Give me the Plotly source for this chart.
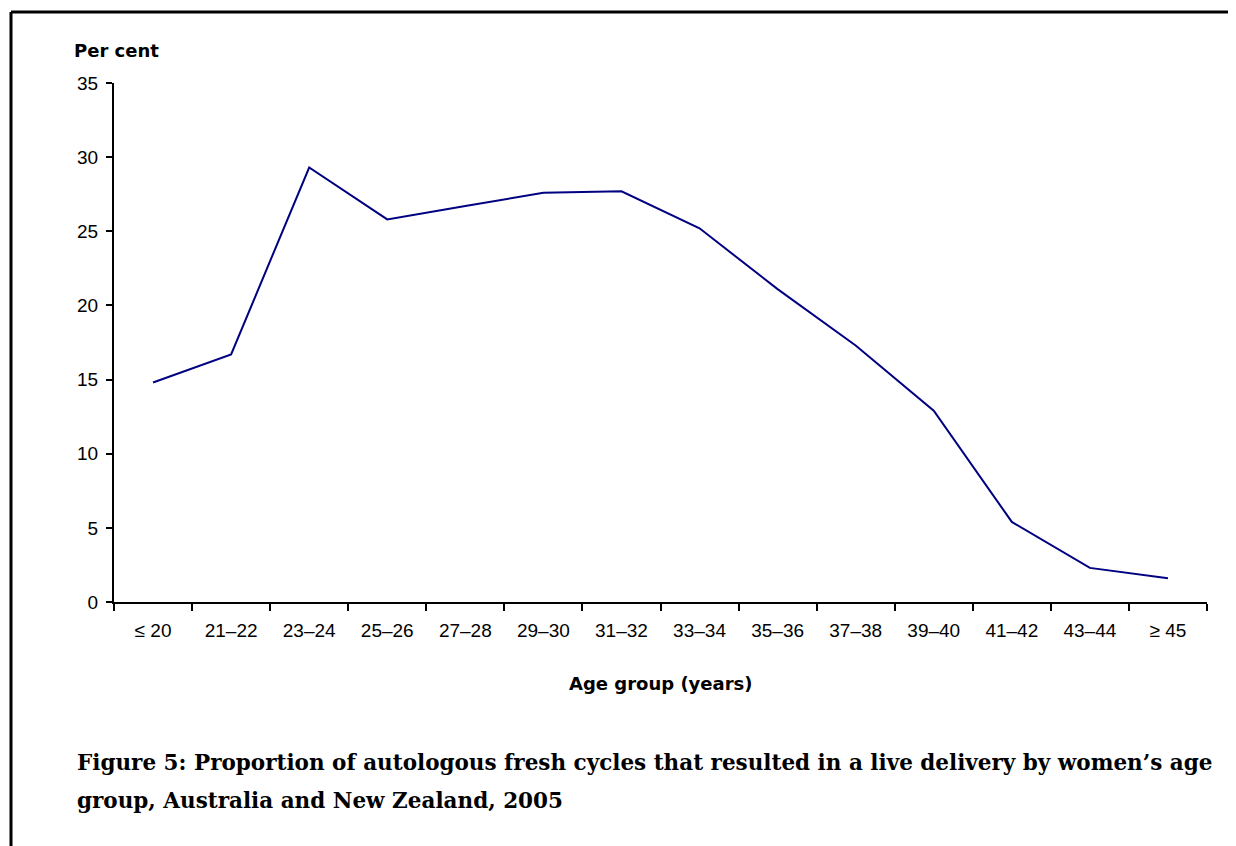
import plotly.graph_objects as go

categories = ["≤ 20", "21–22", "23–24", "25–26", "27–28", "29–30", "31–32",
              "33–34", "35–36", "37–38", "39–40", "41–42", "43–44", "≥ 45"]
per_cent = [14.8, 16.7, 29.3, 25.8, 26.7, 27.6, 27.7,
            25.2, 21.1, 17.3, 12.9, 5.4, 2.3, 1.6]
y_ticks = [0, 5, 10, 15, 20, 25, 30, 35]

OFF = 8  # page body margin
W, H = 1236 - OFF, 846 - OFF
L, R, T, B = 114 - OFF, 29, 83 - OFF, 244
pw, ph = W - L - R, H - T - B

def px(x):
    return (x - OFF - L) / pw

def py(y):
    return (H - B - (y - OFF)) / ph

fig = go.Figure()
fig.add_trace(go.Scatter(
    x=categories, y=per_cent, mode="lines",
    line=dict(color="#000080", width=2), hoverinfo="x+y", showlegend=False))

tick_font = dict(family="Liberation Sans, Arial", size=19, color="black")
fig.update_layout(
    width=W, height=H,
    margin=dict(l=L, r=R, t=T, b=B),
    paper_bgcolor="white", plot_bgcolor="white",
    xaxis=dict(type="category", range=[-0.5, 13.5], tickson="boundaries",
               ticks="outside", ticklen=7, tickwidth=2, tickcolor="black",
               showline=True, linecolor="black", linewidth=2,
               showgrid=False, zeroline=False, tickfont=tick_font,
               ticklabelstandoff=10),
    yaxis=dict(range=[0, 35], tickvals=y_ticks, ticks="outside", ticklen=6,
               tickwidth=2, tickcolor="black",
               showline=True, linecolor="black", linewidth=2,
               showgrid=False, zeroline=False, tickfont=tick_font,
               ticklabelstandoff=4),
)

fig.add_annotation(text="<b>Per cent</b>", xref="paper", yref="paper",
                   x=px(72), y=py(50), xanchor="left", yanchor="middle",
                   showarrow=False,
                   font=dict(family="DejaVu Sans", size=18, color="black"))
fig.add_annotation(text="<b>Age group (years)</b>", xref="paper", yref="paper",
                   x=0.5, y=py(683), xanchor="center", yanchor="middle",
                   showarrow=False,
                   font=dict(family="DejaVu Sans", size=18, color="black"))
cap_font = dict(family="DejaVu Serif", size=21.5, color="black")
fig.add_annotation(text="<b>Figure 5: Proportion of autologous fresh cycles that resulted in a live delivery by women’s age</b>",
                   xref="paper", yref="paper", x=px(75), y=py(762),
                   xanchor="left", yanchor="middle", showarrow=False, font=cap_font)
fig.add_annotation(text="<b>group, Australia and New Zealand, 2005</b>",
                   xref="paper", yref="paper", x=px(75), y=py(800),
                   xanchor="left", yanchor="middle", showarrow=False, font=cap_font)

# page frame (top and left edges)
fig.add_shape(type="line", xref="paper", yref="paper",
              x0=px(11), x1=px(1240), y0=py(12), y1=py(12),
              line=dict(color="black", width=3))
fig.add_shape(type="line", xref="paper", yref="paper",
              x0=px(11), x1=px(11), y0=py(12), y1=py(850),
              line=dict(color="black", width=3))

fig.write_html("out.html")
